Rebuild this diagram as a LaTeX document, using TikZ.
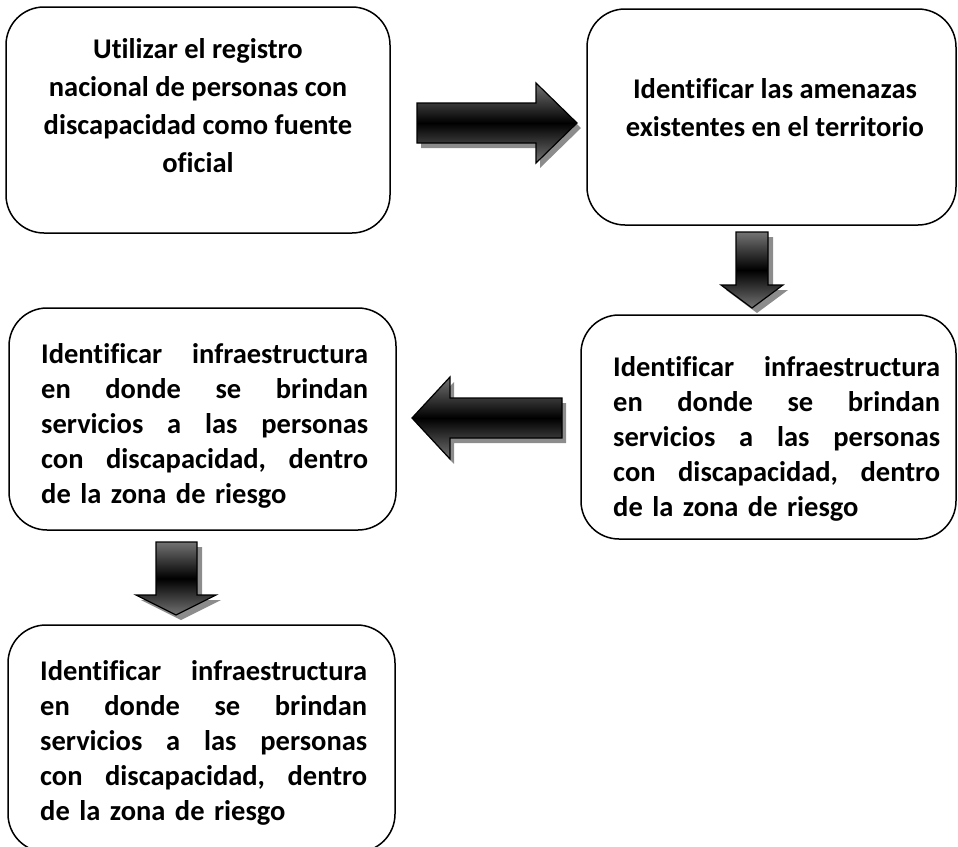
\documentclass[tikz,border=0pt]{standalone}
\usepackage{fontspec}
\setmainfont{Carlito}[Ligatures={NoCommon}]
\setlength{\parindent}{0pt}
\newcommand{\jline}[1]{\leavevmode\hbox to 327bp{#1}}
\tikzset{
  box/.style={draw, line width=1.5bp, rounded corners=38bp, fill=white},
  ctext/.style={font=\bfseries\fontsize{28.5bp}{38bp}\selectfont, align=center, inner sep=0pt, anchor=north},
  jtext/.style={font=\bfseries\fontsize{28.5bp}{35bp}\selectfont, align=left, text width=327bp, inner sep=0pt, anchor=north west},
  blockarrow/.style={draw, line width=1.2bp, top color=black!55, bottom color=black!55, middle color=black},
  arrowshadow/.style={fill=black!45},
}
\begin{document}
\begin{tikzpicture}[x=1bp,y=-1bp]
\useasboundingbox (0,0) rectangle (958,847);
% boxes
\draw[box] (6,7) rectangle (390,233);
\node[inner sep=0pt, minimum width=384bp, minimum height=226bp] (b1) at (198,120) {};
\draw[box] (587,9) rectangle (956,225);
\node[inner sep=0pt, minimum width=369bp, minimum height=216bp] (b2) at (771.5,117) {};
\draw[box] (581,315) rectangle (956,539);
\node[inner sep=0pt, minimum width=375bp, minimum height=224bp] (b3) at (768.5,427) {};
\draw[box] (9,308) rectangle (396,530);
\node[inner sep=0pt, minimum width=387bp, minimum height=222bp] (b4) at (202.5,419) {};
\draw[box] (8,625) rectangle (395,852);
\node[inner sep=0pt, minimum width=387bp, minimum height=227bp] (b5) at (201.5,738.5) {};
% texts
\node[ctext] (t1) at (198,38) {Utilizar el registro\\nacional de personas con\\discapacidad como fuente\\oficial};
\node[ctext] (t2) at (775,78) {Identificar las amenazas\\existentes en el territorio};
\node[jtext] (t3) at (613,356) {\jline{Identificar\hfill infraestructura}\\\jline{en\hfill donde\hfill se\hfill brindan}\\\jline{servicios\hfill a\hfill las\hfill personas}\\\jline{con\hfill discapacidad,\hfill dentro}\\de la zona de riesgo};
\node[jtext] (t4) at (41,343) {\jline{Identificar\hfill infraestructura}\\\jline{en\hfill donde\hfill se\hfill brindan}\\\jline{servicios\hfill a\hfill las\hfill personas}\\\jline{con\hfill discapacidad,\hfill dentro}\\de la zona de riesgo};
\node[jtext] (t5) at (40,660) {\jline{Identificar\hfill infraestructura}\\\jline{en\hfill donde\hfill se\hfill brindan}\\\jline{servicios\hfill a\hfill las\hfill personas}\\\jline{con\hfill discapacidad,\hfill dentro}\\de la zona de riesgo};
% arrow b1 -> b2
\fill[arrowshadow, shift={(4,5)}] (417,103) -- (536,103) -- (536,83) -- (577,123) -- (536,163) -- (536,143) -- (417,143) -- cycle;
\path[blockarrow] (417,103) -- (536,103) -- (536,83) -- (577,123) -- (536,163) -- (536,143) -- (417,143) -- cycle;
% arrow b2 -> b3
\fill[arrowshadow, shift={(5,5)}] (736,232) -- (768,232) -- (768,285) -- (783,285) -- (752,308) -- (721,285) -- (736,285) -- cycle;
\path[blockarrow] (736,232) -- (768,232) -- (768,285) -- (783,285) -- (752,308) -- (721,285) -- (736,285) -- cycle;
% arrow b3 -> b4
\fill[arrowshadow, shift={(4,5)}] (562,398) -- (450,398) -- (450,377) -- (412,418) -- (450,459) -- (450,438) -- (562,438) -- cycle;
\path[blockarrow] (562,398) -- (450,398) -- (450,377) -- (412,418) -- (450,459) -- (450,438) -- (562,438) -- cycle;
% arrow b4 -> b5
\fill[arrowshadow, shift={(5,5)}] (156,542) -- (197,542) -- (197,595) -- (216,595) -- (176,615) -- (136,595) -- (156,595) -- cycle;
\path[blockarrow] (156,542) -- (197,542) -- (197,595) -- (216,595) -- (176,615) -- (136,595) -- (156,595) -- cycle;
\end{tikzpicture}
\end{document}
